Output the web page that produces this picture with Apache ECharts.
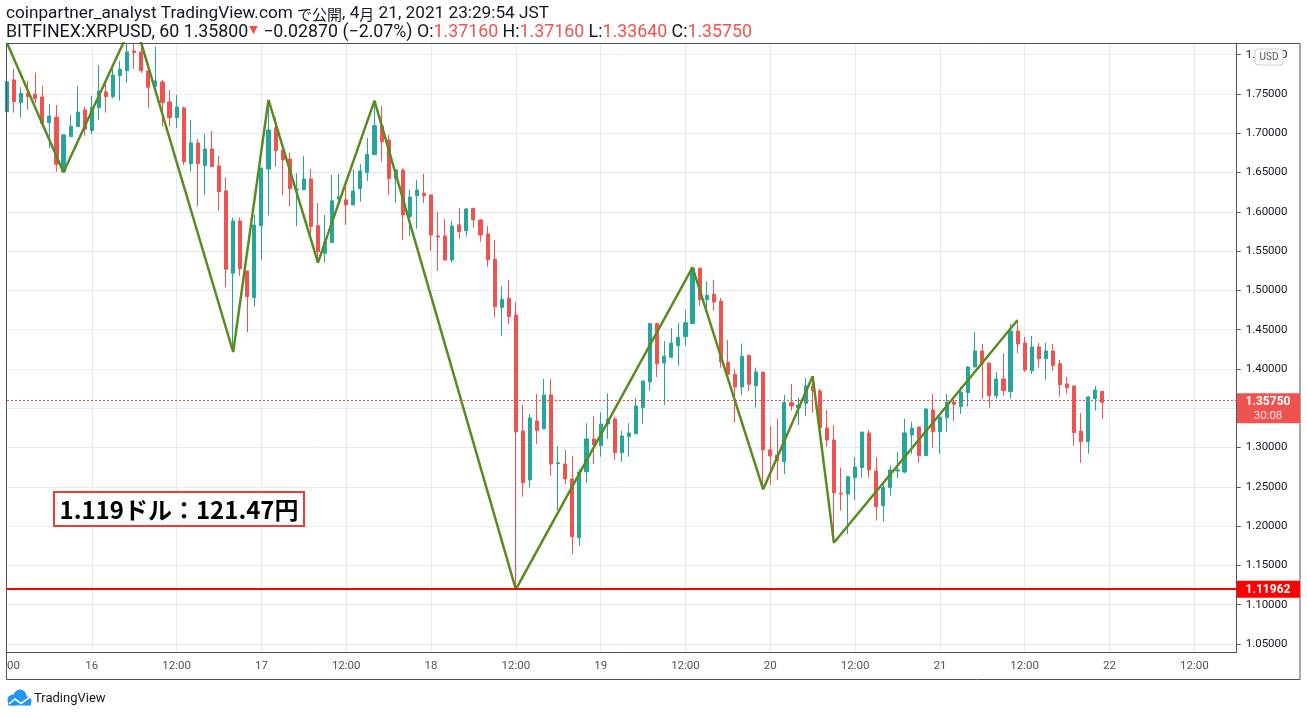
<!DOCTYPE html>
<html><head><meta charset="utf-8">
<script src="https://cdn.jsdelivr.net/npm/echarts@6/dist/echarts.min.js"></script>
<style>html,body{margin:0;padding:0;background:#fff;}#c{width:1307px;height:717px;}</style>
</head><body><div id="c"></div>
<script>
// hours relative to 16 Apr 2021 00:00 JST; candles start at 15 Apr 12:00 (h=-12)
const firstHour = -12;
const lastAxisHour = 162;
const xTickLabels = ['00','16','12:00','17','12:00','18','12:00','19','12:00','20','12:00','21','12:00','22','12:00'];

const opens = [
1.7275,1.7679,1.7390,1.7513,1.7500,1.7462,1.7135,1.7204,1.6511,1.6957,1.7084,1.7297,
1.7033,1.7326,1.7526,1.7466,1.7733,1.7797,1.8047,1.8035,1.7793,1.7593,1.7653,1.7399,
1.7199,1.7322,1.6613,1.6877,1.6588,1.6800,1.6584,1.6266,1.5218,1.5884,1.5248,1.4908,
1.5824,1.6546,1.7071,1.6788,1.6673,1.6278,1.6282,1.6418,1.5824,1.5473,1.5608,1.6160,
1.6152,1.6088,1.6295,1.6498,1.6728,1.7093,1.6915,1.6423,1.6533,1.5939,1.6206,1.6237,
1.6215,1.5693,1.5693,1.5388,1.5833,1.5760,1.6045,1.5896,1.5718,1.5396,1.4785,1.4900,
1.4687,1.3211,1.2587,1.3338,1.3240,1.3669,1.2795,1.2791,1.2600,1.1853,1.2693,1.3109,
1.3024,1.3300,1.3363,1.2935,1.3139,1.3177,1.3508,1.3835,1.4579,1.4077,1.4150,1.4297,
1.4411,1.4579,1.5283,1.4884,1.4951,1.4862,1.4085,1.3933,1.3771,1.4175,1.3788,1.3962,
1.2970,1.2906,1.2820,1.3571,1.3508,1.3563,1.3783,1.3720,1.3249,1.3096,1.2421,1.2409,
1.2616,1.2744,1.3186,1.2702,1.2261,1.2490,1.2702,1.2689,1.3160,1.3262,1.2897,1.3478,
1.3202,1.3380,1.3580,1.3520,1.3698,1.4025,1.4229,1.4076,1.3660,1.3873,1.3711,1.4483,
1.4331,1.3978,1.4280,1.4131,1.4229,1.4067,1.3809,1.3783,1.3211,1.3075,1.3622,1.3716];
const closes = [
1.7657,1.7402,1.7509,1.7466,1.7441,1.7127,1.7220,1.6606,1.6979,1.7089,1.7271,1.7051,
1.7331,1.7538,1.7466,1.7742,1.7815,1.8035,1.8026,1.7797,1.7586,1.7666,1.7390,1.7199,
1.7335,1.6639,1.6877,1.6613,1.6800,1.6575,1.6257,1.5269,1.5884,1.5274,1.4921,1.5833,
1.6558,1.7042,1.6779,1.6660,1.6295,1.6291,1.6418,1.5815,1.5493,1.5617,1.6140,1.6194,
1.6088,1.6266,1.6520,1.6732,1.7097,1.6893,1.6423,1.6533,1.5960,1.6189,1.6278,1.6206,
1.5706,1.5680,1.5388,1.5820,1.5748,1.6036,1.5896,1.5706,1.5388,1.4793,1.4887,1.4666,
1.3202,1.2553,1.3376,1.3215,1.3669,1.2791,1.2807,1.2600,1.1866,1.2689,1.3109,1.3033,
1.3300,1.3363,1.2935,1.3148,1.3186,1.3529,1.3848,1.4579,1.4065,1.4163,1.4328,1.4404,
1.4589,1.5283,1.4884,1.4938,1.4853,1.4089,1.3929,1.3771,1.4163,1.3806,1.3962,1.2970,
1.2893,1.2833,1.3576,1.3529,1.3542,1.3783,1.3720,1.3253,1.3096,1.2425,1.2409,1.2629,
1.2752,1.3198,1.2715,1.2248,1.2490,1.2715,1.2715,1.3186,1.3249,1.2897,1.3491,1.3202,
1.3389,1.3580,1.3551,1.3707,1.4025,1.4229,1.4067,1.3660,1.3873,1.3724,1.4483,1.4318,
1.3987,1.4280,1.4131,1.4229,1.4042,1.3800,1.3762,1.3189,1.3075,1.3644,1.3733,1.3575];
const lows = [
1.7222,1.7262,1.7199,1.7297,1.7386,1.7080,1.6809,1.6511,1.6503,1.6953,1.7080,1.6970,
1.6988,1.7169,1.7262,1.7441,1.7415,1.7644,1.7822,1.7768,1.7326,1.7589,1.7084,1.7084,
1.7071,1.6596,1.6511,1.6069,1.6220,1.6571,1.6018,1.5040,1.4216,1.5185,1.4467,1.4793,
1.5384,1.5955,1.6575,1.6211,1.6069,1.5815,1.6282,1.5718,1.5353,1.5353,1.5608,1.6075,
1.5835,1.6084,1.6130,1.6393,1.6728,1.6639,1.6220,1.6117,1.5642,1.5693,1.5786,1.6112,
1.5506,1.5249,1.5375,1.5353,1.5659,1.5684,1.5799,1.5620,1.5302,1.4658,1.4424,1.4569,
1.1196,1.2375,1.2489,1.3045,1.3228,1.2642,1.2205,1.2536,1.1646,1.1747,1.2553,1.2791,
1.2884,1.3109,1.2842,1.2820,1.2884,1.3177,1.3300,1.3720,1.3899,1.3542,1.4137,1.4042,
1.4297,1.4579,1.4803,1.4780,1.4742,1.4018,1.3929,1.3318,1.3669,1.3720,1.3508,1.2465,
1.2525,1.2587,1.2663,1.3470,1.3287,1.3402,1.3444,1.3224,1.3011,1.1789,1.2197,1.1900,
1.2333,1.2616,1.2616,1.2070,1.2057,1.2388,1.2613,1.2672,1.2920,1.2804,1.2897,1.2998,
1.2922,1.3202,1.3338,1.3427,1.3520,1.4025,1.3622,1.3508,1.3622,1.3660,1.3622,1.4203,
1.3966,1.3936,1.4017,1.3864,1.3978,1.3648,1.3686,1.3024,1.2805,1.2922,1.3469,1.3364];
const highs = [
1.7700,1.7819,1.7586,1.7666,1.7771,1.7602,1.7373,1.7360,1.6985,1.7233,1.7602,1.7339,
1.7475,1.7869,1.7653,1.7869,1.7924,1.8140,1.8140,1.8140,1.7793,1.8102,1.7680,1.7551,
1.7488,1.7339,1.7169,1.6928,1.6991,1.7029,1.6711,1.6440,1.5926,1.5926,1.5248,1.5960,
1.6558,1.7411,1.7199,1.6788,1.6753,1.6491,1.6711,1.6546,1.6112,1.5960,1.6471,1.6484,
1.6393,1.6542,1.6609,1.6940,1.7411,1.7348,1.6979,1.6533,1.6554,1.6278,1.6406,1.6484,
1.6215,1.5998,1.5909,1.5888,1.6049,1.6049,1.6045,1.5909,1.5820,1.5642,1.5056,1.5133,
1.4849,1.3542,1.3427,1.3682,1.3873,1.3873,1.3020,1.2969,1.2893,1.2727,1.3309,1.3402,
1.3449,1.3691,1.3393,1.3211,1.3309,1.3627,1.3848,1.4583,1.4583,1.4354,1.4519,1.4583,
1.4750,1.5290,1.5283,1.5117,1.5133,1.4904,1.4366,1.3996,1.4324,1.4175,1.4017,1.3962,
1.3275,1.3364,1.3669,1.3809,1.3635,1.3885,1.3909,1.3746,1.3478,1.3287,1.2744,1.2638,
1.2880,1.3198,1.3224,1.2880,1.2536,1.2770,1.2944,1.3364,1.3326,1.3262,1.3491,1.3682,
1.3389,1.3682,1.3606,1.3775,1.4038,1.4471,1.4318,1.4076,1.3962,1.4195,1.4572,1.4623,
1.4407,1.4420,1.4331,1.4331,1.4318,1.4114,1.3898,1.3783,1.3440,1.3656,1.3784,1.3716];

const zigzagHours  = [-12, -4, 6, 20, 25, 32, 40, 60, 85, 95, 102, 105, 131];
const zigzagPrices = [1.815, 1.6503, 1.845, 1.4216, 1.7424, 1.5353, 1.7415, 1.1196, 1.5294, 1.2469, 1.3907, 1.1789, 1.4624];

const supportLevel = 1.11962;
const lastPrice = 1.35750;
const currentQuote = '1.35800';
const changeText = '\u22120.02870 (\u22122.07%)';
const countdown = '30:08';
const noteText = '1.119ドル：121.47円';

const categories = [];
for (let h = firstHour; h <= lastAxisHour; h++) categories.push(String(h));
const candleData = opens.map((o, i) => [o, closes[i], lows[i], highs[i]]);
const zigzagData = zigzagHours.map((h, i) => [String(h), zigzagPrices[i]]);

const UP = '#26a69a', DOWN = '#ef5350', GRIDC = '#e3eaf0', AXC = '#50535e', TXT = '#131722';
const FONT = 'Roboto, "Noto Sans CJK JP", sans-serif';
const CJK = '"Noto Sans CJK JP", sans-serif';
const isMajor = (v) => ((Number(v) - firstHour) % 12) === 0;

const chart = echarts.init(document.getElementById('c'), null, {renderer: 'canvas'});
const option = {
  animation: false,
  backgroundColor: '#ffffff',
  grid: {left: 7, right: 70.3, top: 43.3, bottom: 64.7, containLabel: false},
  xAxis: {
    type: 'category', data: categories, boundaryGap: false,
    axisLine: {show: true, lineStyle: {color: AXC, width: 1}},
    axisTick: {show: false},
    axisLabel: {
      interval: (idx, v) => isMajor(v), margin: 8, color: AXC, fontSize: 11.5, fontFamily: 'Roboto',
      alignMinLabel: 'left',
      formatter: (v) => isMajor(v) ? xTickLabels[(Number(v) - firstHour) / 12] : ''
    },
    splitLine: {show: true, interval: (idx, v) => isMajor(v) && Number(v) !== firstHour, lineStyle: {color: GRIDC, width: 1}}
  },
  yAxis: {
    type: 'value', position: 'right', min: 1.0394, max: 1.8145, splitNumber: 15,
    axisLine: {show: true, lineStyle: {color: AXC, width: 1}},
    axisTick: {show: true, length: 4, lineStyle: {color: AXC}},
    axisLabel: {margin: 9, color: TXT, fontSize: 11.5, fontFamily: 'Roboto', showMinLabel: false, showMaxLabel: false,
      formatter: (v) => v.toFixed(5)},
    splitLine: {show: true, lineStyle: {color: GRIDC, width: 1}}
  },
  series: [
    {
      type: 'candlestick', data: candleData, barWidth: 3.6, z: 3,
      itemStyle: {color: UP, color0: DOWN, borderColor: UP, borderColor0: DOWN, borderWidth: 1},
      markLine: {
        silent: true, symbol: ['none', 'none'], label: {show: false}, z: 6,
        data: [
          {yAxis: supportLevel, lineStyle: {color: '#ff0000', width: 2, type: 'solid'}},
          {yAxis: lastPrice, lineStyle: {color: '#f04a48', width: 1.2, type: [2, 2]}}
        ]
      }
    },
    {
      type: 'line', data: zigzagData, showSymbol: false, symbol: 'none', clip: true, z: 5,
      lineStyle: {color: '#5a8a22', width: 2.5}
    }
  ]
};
chart.setOption(option);

const yLast = chart.convertToPixel({yAxisIndex: 0}, lastPrice);
const ySup = chart.convertToPixel({yAxisIndex: 0}, supportLevel);
const n = opens.length - 1;
const f5 = (v) => v.toFixed(5);
const LAT = 17.2, LAT2 = 17.8, JP = 15;

const graphics = [
  {type: 'rect', silent: true, z: 60, shape: {x: 6.5, y: 43.5, width: 1293.5, height: 636}, style: {fill: 'none', stroke: AXC, lineWidth: 1}},
  {type: 'text', silent: true, z: 60, x: 6, y: 14, style: {
    text: '{a|coinpartner_analyst TradingView.com }{j|で公開}{a|, 4}{j|月}{a| 21, 2021 23:29:54 JST}',
    fontSize: LAT, fontFamily: FONT, fill: TXT, verticalAlign: 'middle',
    rich: {a: {fill: TXT, fontSize: LAT, fontFamily: FONT}, j: {fill: TXT, fontSize: JP, fontFamily: CJK}}
  }},
  {type: 'text', silent: true, z: 60, x: 6, y: 33, style: {
    text: '{d|BITFINEX:XRPUSD, 60 ' + currentQuote + '}{t|▼}{d| ' + changeText + ' O:}{r|' + f5(opens[n]) + '}{d| H:}{r|' + f5(highs[n]) + '}{d| L:}{r|' + f5(lows[n]) + '}{d| C:}{r|' + f5(closes[n]) + '}',
    fontSize: LAT2, fontFamily: FONT, fill: TXT, verticalAlign: 'middle',
    rich: {d: {fill: TXT, fontSize: LAT2, fontFamily: FONT}, r: {fill: DOWN, fontSize: LAT2, fontFamily: FONT}, t: {fill: DOWN, fontSize: 11, fontFamily: 'DejaVu Sans', padding: [0, 1, 6, 1]}}
  }},
  // note box
  {type: 'rect', silent: true, z: 60, shape: {x: 54, y: 492, width: 250, height: 34}, style: {fill: '#ffffff', stroke: '#ee3b33', lineWidth: 2}},
  {type: 'text', silent: true, z: 61, x: 179, y: 510, style: {text: noteText, fontSize: 24, fontWeight: 'bold', fontFamily: CJK, fill: '#000000', align: 'center', verticalAlign: 'middle'}},
  // price tags on the axis
  {type: 'rect', silent: true, z: 62, shape: {x: 1237, y: yLast - 9, width: 63, height: 30}, style: {fill: DOWN}},
  {type: 'text', silent: true, z: 63, x: 1268, y: yLast, style: {text: f5(lastPrice), fontSize: 12, fontWeight: 'bold', fontFamily: 'Roboto', fill: '#ffffff', align: 'center', verticalAlign: 'middle'}},
  {type: 'text', silent: true, z: 63, x: 1268, y: yLast + 14, style: {text: countdown, fontSize: 11.5, fontFamily: 'Roboto', fill: '#fde2e1', align: 'center', verticalAlign: 'middle'}},
  {type: 'rect', silent: true, z: 62, shape: {x: 1237, y: ySup - 8.5, width: 63, height: 17}, style: {fill: '#ff0000'}},
  {type: 'text', silent: true, z: 63, x: 1268, y: ySup + 0.5, style: {text: f5(supportLevel), fontSize: 12, fontWeight: 'bold', fontFamily: 'Roboto', fill: '#ffffff', align: 'center', verticalAlign: 'middle'}},
  // USD badge
  {type: 'rect', silent: true, z: 62, shape: {x: 1255, y: 49, width: 28, height: 16, r: 3}, style: {fill: '#ffffff', stroke: '#c8ccd4', lineWidth: 1}},
  {type: 'text', silent: true, z: 63, x: 1269, y: 57.5, style: {text: 'USD', fontSize: 10, fontFamily: 'Roboto', fill: AXC, align: 'center', verticalAlign: 'middle'}},
  // TradingView logo
  {type: 'circle', silent: true, z: 60, shape: {cx: 13, cy: 700, r: 5.5}, style: {fill: '#2196f3'}},
  {type: 'circle', silent: true, z: 60, shape: {cx: 20, cy: 696, r: 6.5}, style: {fill: '#2196f3'}},
  {type: 'circle', silent: true, z: 60, shape: {cx: 27, cy: 701, r: 4.5}, style: {fill: '#2196f3'}},
  {type: 'rect', silent: true, z: 60, shape: {x: 8, y: 700, width: 23, height: 5.5}, style: {fill: '#2196f3'}},
  {type: 'polyline', silent: true, z: 61, shape: {points: [[9, 704], [15, 699], [21, 703.5], [30, 697]]}, style: {stroke: '#ffffff', lineWidth: 1.6, fill: 'none'}},
  {type: 'text', silent: true, z: 60, x: 34, y: 699, style: {text: 'TradingView', fontSize: 13, fontFamily: 'Roboto', fill: TXT, verticalAlign: 'middle'}}
];
chart.setOption({graphic: graphics});
</script>
</body></html>
